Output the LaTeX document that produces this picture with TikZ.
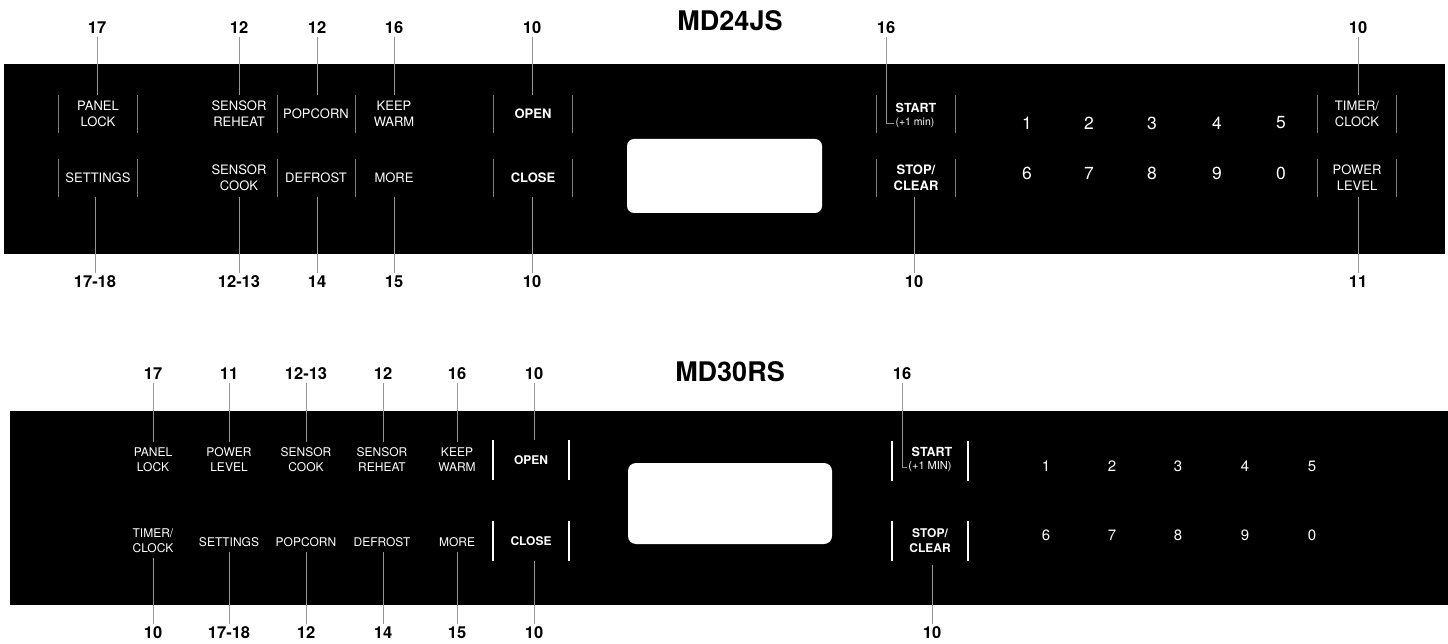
\documentclass[tikz,border=0pt]{standalone}
\usepackage{fontspec}
\setmainfont{TeX Gyre Heros}
\definecolor{leadgray}{RGB}{150,150,150}
\definecolor{sepgray}{RGB}{125,125,125}
\tikzset{
  lab/.style={font=\fontsize{16.5}{18}\bfseries\selectfont, inner sep=2.5pt},
  ttl/.style={font=\fontsize{27}{30}\bfseries\selectfont, inner sep=0pt},
  btA/.style={text=white, font=\fontsize{13}{16}\selectfont, align=center,
              minimum width=78pt, minimum height=37pt, inner sep=0pt},
  btAb/.style={btA, font=\fontsize{13}{16}\bfseries\selectfont},
  btB/.style={text=white, font=\fontsize{12}{15}\selectfont, align=center, inner sep=5pt},
  btBbox/.style={text=white, font=\fontsize{12}{15}\bfseries\selectfont, align=center,
              minimum width=76pt, minimum height=40pt, inner sep=0pt},
  stA/.style={text=white, font=\fontsize{12.5}{15}\bfseries\selectfont, inner sep=0pt},
  subA/.style={text=white, font=\fontsize{10.5}{12}\selectfont, inner sep=1pt},
  subB/.style={text=white, font=\fontsize{11}{12}\selectfont, inner sep=1pt},
  dgA/.style={text=white, font=\fontsize{17.5}{20}\selectfont, inner sep=0pt},
  dgB/.style={text=white, font=\fontsize{15}{18}\selectfont, inner sep=0pt},
  lead/.style={draw=leadgray, line width=0.9pt},
  sepA/.style={draw=sepgray, line width=1.3pt},
  sepB/.style={draw=white, line width=2pt},
}
\begin{document}
\begin{tikzpicture}[x=1pt,y=-1pt]
\useasboundingbox (0,0) rectangle (1448,644);

%% ================= MD24JS =================
\fill[black] (4,64) rectangle (1445,254);
\fill[white, rounded corners=7pt] (627,139) rectangle (822,213);
\node[ttl] (t1) at (730,21) {MD24JS};

\node[btA] (pl)   at (98,114)  {PANEL\\LOCK};
\node[btA] (set)  at (98,178)  {SETTINGS};
\node[btA, minimum width=76pt] (sr) at (239,114) {SENSOR\\REHEAT};
\node[btA, minimum width=76pt] (sc) at (239,178) {SENSOR\\COOK};
\node[btA] (pop)  at (316,114) {POPCORN};
\node[btA] (def)  at (316,178) {DEFROST};
\node[btA] (kw)   at (394,114) {KEEP\\WARM};
\node[btA] (more) at (394,178) {MORE};
\node[btAb] (open)  at (533,114) {OPEN};
\node[btAb] (close) at (533,178) {CLOSE};
\node[btA] (startbox) at (916,114) {};
\node[stA] (start) at (916,108) {START};
\node[subA] (startsub) at (915,123) {(+1 min)};
\node[btAb] (stop) at (916,178) {STOP/\\CLEAR};
\node[btA] (tc) at (1357,114) {TIMER/\\CLOCK};
\node[btA] (pw) at (1357,178) {POWER\\LEVEL};
\foreach \d/\x in {1/1027,2/1089,3/1152,4/1217,5/1281}
  \node[dgA] (ta\d) at (\x,123) {\d};
\foreach \d/\x in {6/1027,7/1089,8/1152,9/1217,0/1281}
  \node[dgA] (ta\d) at (\x,173) {\d};

\foreach \n in {pl,set,open,close,startbox,stop,tc,pw}{
  \draw[sepA] (\n.north west) -- (\n.south west);
  \draw[sepA] (\n.north east) -- (\n.south east);
}
\foreach \n in {sr,sc,pop,def}
  \draw[sepA] (\n.north east) -- (\n.south east);

% labels top
\node[lab] (a1) at (97,28)   {17};
\node[lab] (a2) at (239,28)  {12};
\node[lab] (a3) at (317,28)  {12};
\node[lab] (a4) at (394,28)  {16};
\node[lab] (a5) at (532,28)  {10};
\node[lab] (a6) at (886,28)  {16};
\node[lab] (a7) at (1358,28) {10};
% labels bottom
\node[lab] (b1) at (95,282)   {17-18};
\node[lab] (b2) at (239,282)  {12-13};
\node[lab] (b3) at (317,282)  {14};
\node[lab] (b4) at (394,282)  {15};
\node[lab] (b5) at (532,282)  {10};
\node[lab] (b6) at (914,282)  {10};
\node[lab] (b7) at (1358,282) {11};

\draw[lead] (a1.south) -- (a1.south |- pl.north);
\draw[lead] (a2.south) -- (a2.south |- sr.north);
\draw[lead] (a3.south) -- (a3.south |- pop.north);
\draw[lead] (a4.south) -- (a4.south |- kw.north);
\draw[lead] (a5.south) -- (a5.south |- open.north);
\draw[lead] (a6.south) |- (startsub.west);
\draw[lead] (a7.south) -- (a7.south |- tc.north);
\draw[lead] (b1.north |- set.south) -- (b1.north);
\draw[lead] (b2.north |- sc.south) -- (b2.north);
\draw[lead] (b3.north |- def.south) -- (b3.north);
\draw[lead] (b4.north |- more.south) -- (b4.north);
\draw[lead] (b5.north |- close.south) -- (b5.north);
\draw[lead] (b6.north |- stop.south) -- (b6.north);
\draw[lead] (b7.north |- pw.south) -- (b7.north);

%% ================= MD30RS =================
\fill[black] (10,411) rectangle (1448,605);
\fill[white, rounded corners=8pt] (628,463) rectangle (832,544);
\node[ttl] (t2) at (730,372) {MD30RS};

\node[btB] (pl2)   at (153,459.5) {PANEL\\LOCK};
\node[btB] (pw2)   at (229,459.5) {POWER\\LEVEL};
\node[btB] (sc2)   at (306,459.5) {SENSOR\\COOK};
\node[btB] (sr2)   at (382,459.5) {SENSOR\\REHEAT};
\node[btB] (kw2)   at (457,459.5) {KEEP\\WARM};
\node[btB] (tc2)   at (153,540.5) {TIMER/\\CLOCK};
\node[btB] (set2)  at (229,542)   {SETTINGS};
\node[btB] (pop2)  at (306,542)   {POPCORN};
\node[btB] (def2)  at (382,542)   {DEFROST};
\node[btB] (more2) at (457,542)   {MORE};
\node[btBbox] (open2)  at (531,460) {OPEN};
\node[btBbox] (close2) at (531,541) {CLOSE};
\node[btBbox] (startbox2) at (930,461) {};
\node[stA] (start2) at (932,452) {START};
\node[subB] (startsub2) at (930,467) {(+1 MIN)};
\node[btBbox] (stop2) at (930,541) {STOP/\\CLEAR};
\foreach \d/\x in {1/1046,2/1112,3/1178,4/1245,5/1312}
  \node[dgB] (tb\d) at (\x,466) {\d};
\foreach \d/\x in {6/1046,7/1112,8/1178,9/1245,0/1312}
  \node[dgB] (tb\d) at (\x,535) {\d};

\foreach \n in {open2,close2,startbox2,stop2}{
  \draw[sepB] (\n.north west) -- (\n.south west);
  \draw[sepB] (\n.north east) -- (\n.south east);
}

\node[lab] (c1) at (153,374) {17};
\node[lab] (c2) at (229,374) {11};
\node[lab] (c3) at (306,374) {12-13};
\node[lab] (c4) at (383,374) {12};
\node[lab] (c5) at (457,374) {16};
\node[lab] (c6) at (534,374) {10};
\node[lab] (c7) at (902,374) {16};
\node[lab] (d1) at (153,633) {10};
\node[lab] (d2) at (229,633) {17-18};
\node[lab] (d3) at (306,633) {12};
\node[lab] (d4) at (383,633) {14};
\node[lab] (d5) at (457,633) {15};
\node[lab] (d6) at (534,633) {10};
\node[lab] (d7) at (932,633) {10};

\draw[lead] (c1.south) -- (c1.south |- pl2.north);
\draw[lead] (c2.south) -- (c2.south |- pw2.north);
\draw[lead] (c3.south) -- (c3.south |- sc2.north);
\draw[lead] (c4.south) -- (c4.south |- sr2.north);
\draw[lead] (c5.south) -- (c5.south |- kw2.north);
\draw[lead] (c6.south) -- (c6.south |- open2.north);
\draw[lead] (c7.south) |- (startsub2.west);
\draw[lead] (d1.north |- tc2.south) -- (d1.north);
\draw[lead] (d2.north |- set2.south) -- (d2.north);
\draw[lead] (d3.north |- pop2.south) -- (d3.north);
\draw[lead] (d4.north |- def2.south) -- (d4.north);
\draw[lead] (d5.north |- more2.south) -- (d5.north);
\draw[lead] (d6.north |- close2.south) -- (d6.north);
\draw[lead] ([yshift=-4pt]d7.north |- stop2.south) -- (d7.north);
\end{tikzpicture}
\end{document}
